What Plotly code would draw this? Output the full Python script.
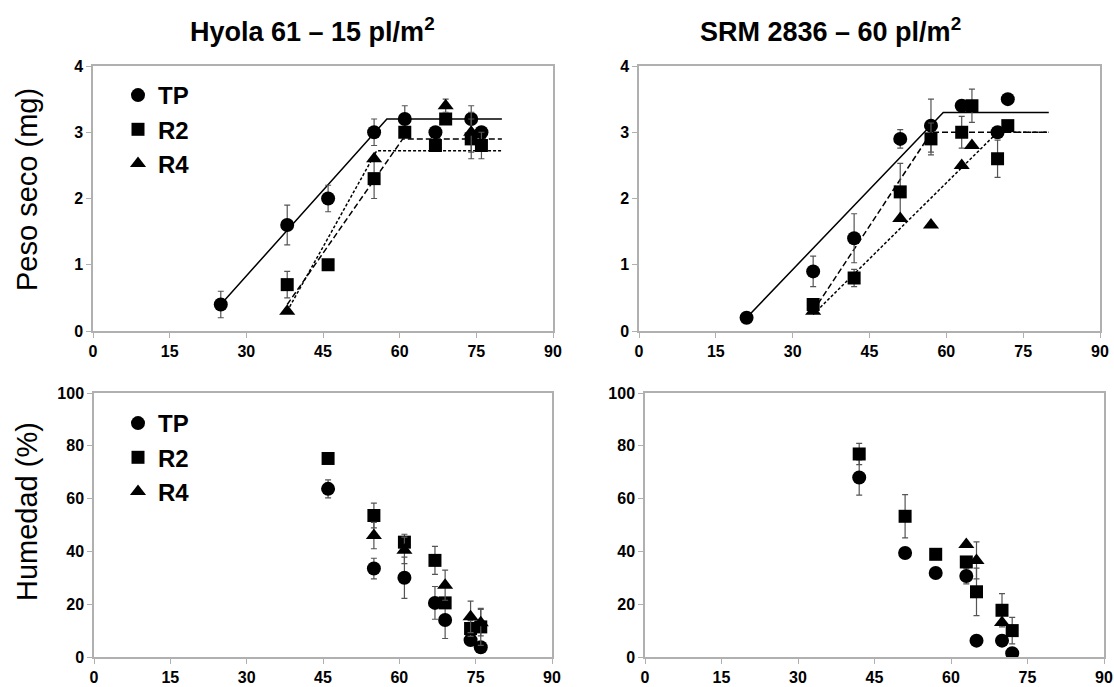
import plotly.graph_objects as go

# ---------------- DATA ----------------
# Hyola 61 - Peso seco (mg)
h_ps_tp_x = [25, 38, 46, 55, 61, 67, 74, 76]
h_ps_tp_y = [0.4, 1.6, 2.0, 3.0, 3.2, 3.0, 3.2, 3.0]
h_ps_tp_e = [0.2, 0.3, 0.2, 0.2, 0.2, None, 0.2, None]
h_ps_r2_x = [38, 46, 55, 61, 67, 69, 74, 76]
h_ps_r2_y = [0.7, 1.0, 2.3, 3.0, 2.8, 3.2, 2.9, 2.8]
h_ps_r2_e = [0.2, None, 0.3, None, None, None, 0.3, 0.2]
h_ps_r4_x = [38, 55, 69, 74]
h_ps_r4_y = [0.3, 2.6, 3.4, 3.0]
h_ps_r4_e = [None, None, 0.1, 0.3]
# fitted piecewise lines (Hyola 61)
h_fit_tp_x = [25, 57.5, 80]
h_fit_tp_y = [0.4, 3.2, 3.2]
h_fit_r2_x = [38, 60.6, 80]
h_fit_r2_y = [0.4, 2.9, 2.9]
h_fit_r4_x = [38, 55.5, 80]
h_fit_r4_y = [0.3, 2.72, 2.72]

# SRM 2836 - Peso seco (mg)
s_ps_tp_x = [21, 34, 42, 51, 57, 63, 70, 72]
s_ps_tp_y = [0.2, 0.9, 1.4, 2.9, 3.1, 3.4, 3.0, 3.5]
s_ps_tp_e = [None, 0.23, 0.37, 0.14, 0.4, None, None, None]
s_ps_r2_x = [34, 42, 51, 57, 63, 65, 70, 72]
s_ps_r2_y = [0.4, 0.8, 2.1, 2.9, 3.0, 3.4, 2.6, 3.1]
s_ps_r2_e = [None, 0.13, 0.43, 0.24, 0.24, 0.25, 0.28, None]
s_ps_r4_x = [34, 51, 57, 63, 65]
s_ps_r4_y = [0.3, 1.7, 1.6, 2.5, 2.8]
s_ps_r4_e = [None, None, None, None, None]
# fitted piecewise lines (SRM 2836)
s_fit_tp_x = [21, 59.4, 80]
s_fit_tp_y = [0.2, 3.3, 3.3]
s_fit_r2_x = [34, 57.1, 80]
s_fit_r2_y = [0.3, 3.0, 3.0]
s_fit_r4_x = [34, 70, 80]
s_fit_r4_y = [0.25, 3.0, 3.0]

# Hyola 61 - Humedad (%)
h_hu_tp_x = [46, 55, 61, 67, 69, 74, 76]
h_hu_tp_y = [63.7, 33.5, 30.0, 20.5, 14.0, 6.4, 3.7]
h_hu_tp_e = [3.4, 3.9, 7.8, 6.2, 7.0, None, None]
h_hu_r2_x = [46, 55, 61, 67, 69, 74, 76]
h_hu_r2_y = [75.2, 53.6, 43.5, 36.6, 20.5, 10.8, 11.4]
h_hu_r2_e = [None, 4.7, 3.0, 5.3, None, 3.0, 7.0]
h_hu_r4_x = [55, 61, 69, 74, 76]
h_hu_r4_y = [46.0, 40.4, 27.2, 15.2, 13.0]
h_hu_r4_e = [5.0, 5.0, 5.7, 6.0, 5.0]

# SRM 2836 - Humedad (%)
s_hu_tp_x = [42, 51, 57, 63, 65, 70, 72]
s_hu_tp_y = [68.0, 39.4, 31.8, 30.7, 6.2, 6.2, 1.4]
s_hu_tp_e = [6.7, None, 2.0, 3.0, None, None, None]
s_hu_r2_x = [42, 51, 57, 63, 65, 70, 72]
s_hu_r2_y = [76.9, 53.3, 38.9, 36.0, 24.7, 17.7, 10.0]
s_hu_r2_e = [4.0, 8.2, None, 2.0, 9.0, 6.3, 5.0]
s_hu_r4_x = [63, 65, 70]
s_hu_r4_y = [42.6, 36.6, 13.1]
s_hu_r4_e = [None, 7.0, None]

series_names = ["TP", "R2", "R4"]
x_ticks = [0, 15, 30, 45, 60, 75, 90]
ps_ticks = [0, 1, 2, 3, 4]
hu_ticks = [0, 20, 40, 60, 80, 100]
titles = ["Hyola 61 – 15 pl/m<sup>2</sup>", "SRM 2836 – 60 pl/m<sup>2</sup>"]
y_titles = ["Peso seco (mg)", "Humedad (%)"]

# ---------------- FIGURE ----------------
W, H = 1114, 687
FONT = "Liberation Sans, Arial, sans-serif"
symbols = {"TP": "circle", "R2": "square", "R4": "triangle-up"}
sizes = {"TP": 14, "R2": 13, "R4": 14}

fig = go.Figure()

def add_points(xs, ys, es, name, xa, ya, legend, showlegend):
    fig.add_trace(go.Scatter(
        x=xs, y=ys, mode="markers", name=name,
        marker=dict(symbol=symbols[name], size=sizes[name], color="black"),
        error_y=dict(type="data", array=es, visible=True, color="#555555",
                     thickness=1.2, width=3),
        xaxis=xa, yaxis=ya, legend=legend, showlegend=showlegend,
    ))

def add_line(xs, ys, dash, xa, ya):
    fig.add_trace(go.Scatter(
        x=xs, y=ys, mode="lines",
        line=dict(color="black", width=1.5, dash=dash),
        xaxis=xa, yaxis=ya, showlegend=False, hoverinfo="skip",
    ))

# fitted lines first (under markers)
add_line(h_fit_tp_x, h_fit_tp_y, "solid", "x", "y")
add_line(h_fit_r2_x, h_fit_r2_y, "6px,3px", "x", "y")
add_line(h_fit_r4_x, h_fit_r4_y, "3px,2px", "x", "y")
add_line(s_fit_tp_x, s_fit_tp_y, "solid", "x2", "y2")
add_line(s_fit_r2_x, s_fit_r2_y, "6px,3px", "x2", "y2")
add_line(s_fit_r4_x, s_fit_r4_y, "3px,2px", "x2", "y2")

# points
add_points(h_ps_tp_x, h_ps_tp_y, h_ps_tp_e, "TP", "x", "y", "legend", True)
add_points(h_ps_r2_x, h_ps_r2_y, h_ps_r2_e, "R2", "x", "y", "legend", True)
add_points(h_ps_r4_x, h_ps_r4_y, h_ps_r4_e, "R4", "x", "y", "legend", True)
add_points(s_ps_tp_x, s_ps_tp_y, s_ps_tp_e, "TP", "x2", "y2", "legend", False)
add_points(s_ps_r2_x, s_ps_r2_y, s_ps_r2_e, "R2", "x2", "y2", "legend", False)
add_points(s_ps_r4_x, s_ps_r4_y, s_ps_r4_e, "R4", "x2", "y2", "legend", False)
add_points(h_hu_tp_x, h_hu_tp_y, h_hu_tp_e, "TP", "x3", "y3", "legend2", True)
add_points(h_hu_r2_x, h_hu_r2_y, h_hu_r2_e, "R2", "x3", "y3", "legend2", True)
add_points(h_hu_r4_x, h_hu_r4_y, h_hu_r4_e, "R4", "x3", "y3", "legend2", True)
add_points(s_hu_tp_x, s_hu_tp_y, s_hu_tp_e, "TP", "x4", "y4", "legend2", False)
add_points(s_hu_r2_x, s_hu_r2_y, s_hu_r2_e, "R2", "x4", "y4", "legend2", False)
add_points(s_hu_r4_x, s_hu_r4_y, s_hu_r4_e, "R4", "x4", "y4", "legend2", False)

def px_x(a, b):
    return [a / W, b / W]

def px_y(top, bottom):
    return [1 - bottom / H, 1 - top / H]

axis_common = dict(
    showgrid=False, zeroline=False, showline=True, linecolor="#b0b0b0",
    linewidth=1.5, mirror=True, ticks="outside", ticklen=5, tickcolor="#b0b0b0",
    tickwidth=1, automargin=False,
    tickfont=dict(family=FONT, size=16, color="black", weight="bold"),
)

def xax(dom, anchor):
    return dict(axis_common, domain=dom, range=[0, 90], tickvals=x_ticks, anchor=anchor)

def yax(dom, anchor, rng, ticks):
    return dict(axis_common, domain=dom, range=rng, tickvals=ticks, anchor=anchor)

top_dom = px_y(66, 331)
bot_dom = px_y(393, 657)

legend_common = dict(xanchor="left", yanchor="top", bgcolor="rgba(0,0,0,0)",
                     itemsizing="trace", tracegroupgap=0,
                     font=dict(family=FONT, size=24, color="black", weight="bold"))

fig.update_layout(
    template="none",
    width=W, height=H, margin=dict(l=0, r=0, t=0, b=0, autoexpand=False),
    paper_bgcolor="white", plot_bgcolor="white",
    xaxis=xax(px_x(93, 553), "y"),
    yaxis=yax(top_dom, "x", [0, 4], ps_ticks),
    xaxis2=xax(px_x(639, 1100), "y2"),
    yaxis2=yax(top_dom, "x2", [0, 4], ps_ticks),
    xaxis3=xax(px_x(94, 552), "y3"),
    yaxis3=yax(bot_dom, "x3", [0, 100], hu_ticks),
    xaxis4=xax(px_x(645, 1104), "y4"),
    yaxis4=yax(bot_dom, "x4", [0, 100], hu_ticks),
    legend=dict(legend_common, x=118 / W, y=1 - 73 / H),
    legend2=dict(legend_common, x=118 / W, y=1 - 401 / H),
    showlegend=True,
)

# panel titles
for xc, txt in zip([312, 830], titles):
    fig.add_annotation(x=xc / W, y=1 - 30 / H, xref="paper", yref="paper",
                       text=txt, showarrow=False, xanchor="center", yanchor="middle",
                       font=dict(family=FONT, size=27, color="black", weight="bold"))

# y-axis titles
for yc, txt in zip([190, 512], y_titles):
    fig.add_annotation(x=27 / W, y=1 - yc / H, xref="paper", yref="paper",
                       text=txt, showarrow=False, textangle=-90,
                       xanchor="center", yanchor="middle",
                       font=dict(family=FONT, size=29, color="black"))

fig.write_html("out.html")
